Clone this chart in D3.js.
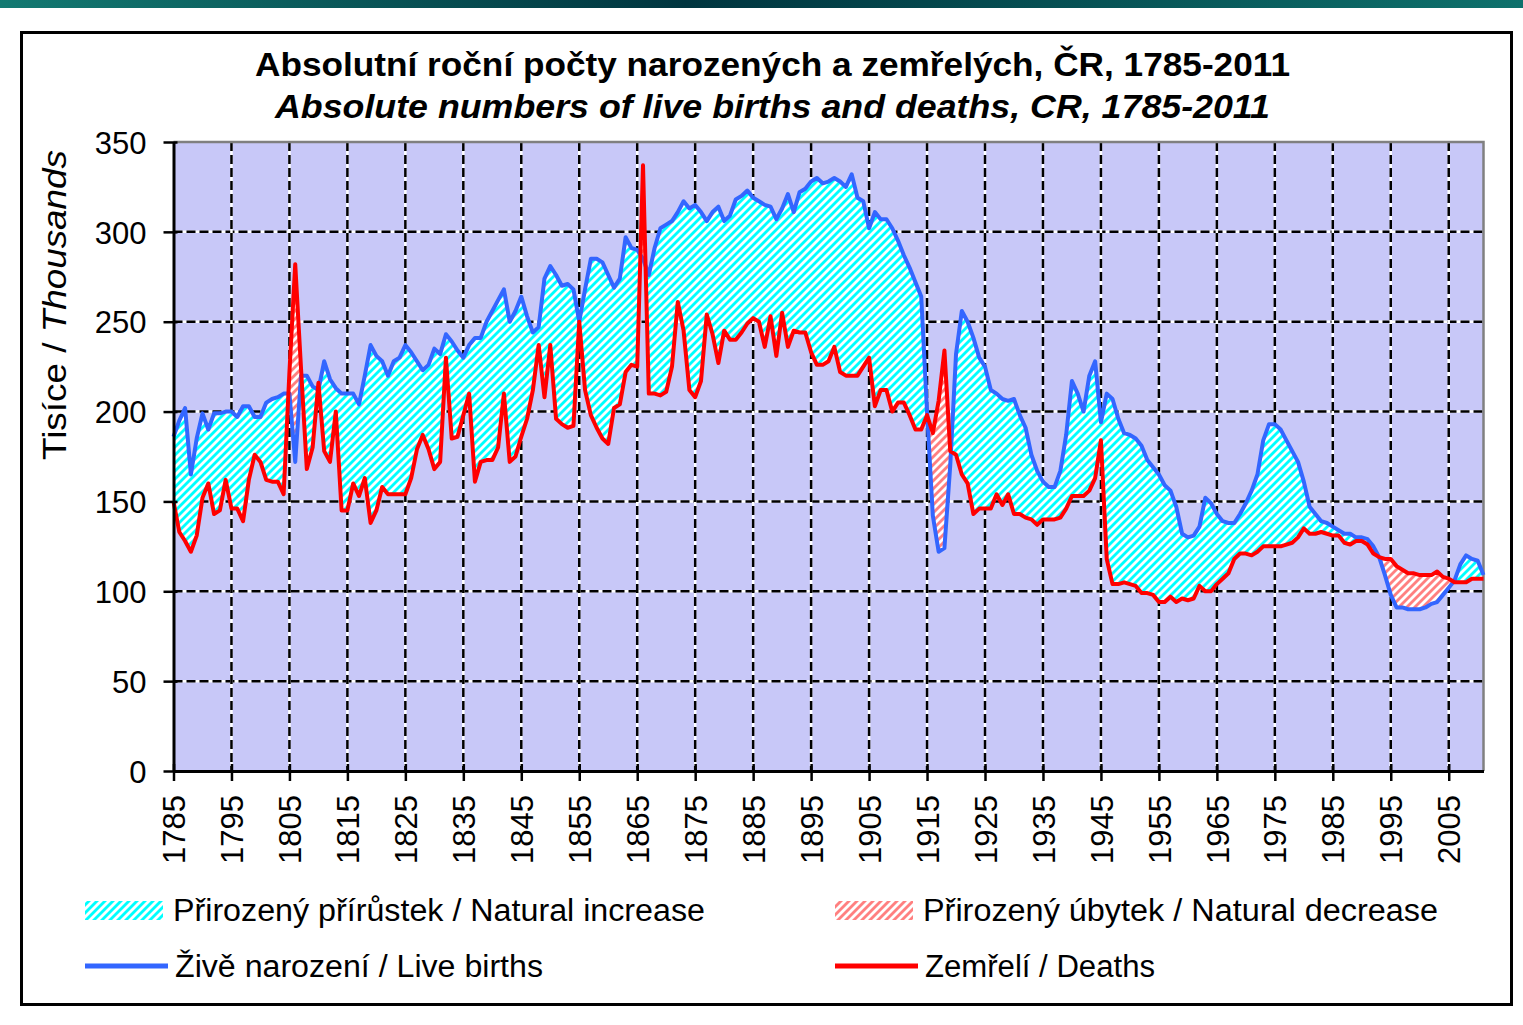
<!DOCTYPE html>
<html><head><meta charset="utf-8">
<script src="https://cdn.jsdelivr.net/npm/d3@7"></script>
<style>
body{margin:0;background:#fff}
svg{display:block}
text{font-family:"Liberation Sans",Arial,sans-serif;fill:#000}
</style>
</head><body>
<svg id="chart" width="1523" height="1025"></svg>
<script>
// ---------- DATA (thousands) ----------
const years = d3.range(1785, 2012);
const births = [
 186,195,202,165,185,199,190,199,199,200, // 1785-1794
 200,197,203,203,197,197,205,207,208,210, // 1795-1804
 210,172,220,220,214,212,228,218,213,210, // 1805-1814
 210,210,204,220,237,231,228,220,228,230, // 1815-1824
 237,233,228,223,226,235,232,243,239,234, // 1825-1834
 230,237,241,241,250,256,262,268,250,256, // 1835-1844
 264,253,244,247,274,281,276,270,271,268, // 1845-1854
 250,268,285,285,283,276,269,274,297,291, // 1855-1864
 290,285,276,291,302,304,306,311,317,313, // 1865-1874
 315,311,306,311,314,306,309,318,320,323, // 1875-1884
 319,317,315,314,307,313,321,311,322,324, // 1885-1894
 328,330,327,328,330,328,325,332,319,317, // 1895-1904
 302,311,307,307,302,295,287,280,272,264, // 1905-1914
 200,142,122,124,170,232,256,250,241,230, // 1915-1924
 225,212,210,207,206,207,198,191,176,167, // 1925-1934
 161,158,158,167,187,217,210,200,220,228, // 1935-1944
 194,210,207,196,188,187,185,181,173,169, // 1945-1954
 165,159,156,147,132,130,131,136,152,149, // 1955-1964
 143,139,138,138,143,149,156,165,184,193, // 1965-1974
 193,190,184,178,172,161,147,143,139,138, // 1975-1984
 136,134,132,132,130,130,129,125,119,109, // 1985-1994
 98,91,91,90,90,90,91,93,94,98,           // 1995-2004
 102,106,115,120,118,117,109              // 2005-2011
];
const deaths = [
 150,133,128,122,131,152,160,143,145,162, // 1785-1794
 146,146,139,162,176,172,162,161,161,154, // 1795-1804
 222,282,224,168,180,216,178,172,200,145, // 1805-1814
 145,160,153,163,138,145,158,154,154,154, // 1815-1824
 154,163,179,187,179,168,172,230,185,186, // 1825-1834
 198,210,161,172,173,173,180,210,172,175, // 1835-1844
 186,196,212,237,208,237,196,193,191,192, // 1845-1854
 250,212,198,191,185,182,202,204,222,226, // 1855-1864
 225,337,210,210,209,211,225,261,245,212, // 1865-1874
 208,217,254,243,227,245,240,240,244,249, // 1875-1884
 252,250,236,253,231,255,236,245,244,244, // 1885-1894
 233,226,226,228,236,222,220,220,220,225, // 1895-1904
 230,203,212,212,200,205,205,198,190,190, // 1905-1914
 198,188,206,234,178,176,165,160,143,146, // 1915-1924
 146,146,154,148,154,143,143,141,140,137, // 1925-1934
 140,140,140,141,146,153,153,153,156,163, // 1935-1944
 184,118,104,104,105,104,103,99,99,98,    // 1945-1954
 94,94,97,94,96,95,96,103,100,100,        // 1955-1964
 104,107,110,118,121,121,120,122,125,125, // 1965-1974
 125,125,126,127,130,135,132,132,133,132, // 1975-1984
 131,131,127,126,128,128,126,121,119,118, // 1985-1994
 118,114,112,110,110,109,109,109,111,108, // 1995-2004
 107,105,105,105,107,107,107              // 2005-2011
];
const yTicks = [0,50,100,150,200,250,300,350];
const yTickLabels = ["0","50","100","150","200","250","300","350"];
const xTickYears = [1785,1795,1805,1815,1825,1835,1845,1855,1865,1875,1885,1895,1905,1915,1925,1935,1945,1955,1965,1975,1985,1995,2005];
const xTickLabels = ["1785","1795","1805","1815","1825","1835","1845","1855","1865","1875","1885","1895","1905","1915","1925","1935","1945","1955","1965","1975","1985","1995","2005"];
const titleCz = "Absolutní roční počty narozených a zemřelých, ČR, 1785-2011";
const titleEn = "Absolute numbers of live births and deaths, CR, 1785-2011";
const legendItems = ["Přirozený přírůstek / Natural increase","Přirozený úbytek / Natural decrease","Živě narození / Live births","Zemřelí / Deaths"];

// ---------- LAYOUT ----------
const svg = d3.select("#chart");
const L = 173.5, R = 1483.5, T = 142, B = 771;
const x = d3.scaleLinear().domain([1785, 2011]).range([L, R]);
const y = d3.scaleLinear().domain([0, 350]).range([B, T]);
const data = years.map((yr, i) => ({yr, b: births[i], d: deaths[i]}));

const defs = svg.append("defs");
const grad = defs.append("linearGradient").attr("id","topbar");
grad.append("stop").attr("offset","0%").attr("stop-color","#137a72");
grad.append("stop").attr("offset","45%").attr("stop-color","#00353f");
grad.append("stop").attr("offset","100%").attr("stop-color","#0e716c");

function hatch(id, color){
  const p = defs.append("pattern").attr("id", id).attr("patternUnits","userSpaceOnUse")
    .attr("width", 8).attr("height", 8);
  p.append("rect").attr("width",8).attr("height",8).attr("fill","#fff");
  p.append("polygon").attr("points","4,0 8,0 0,8 0,4").attr("fill",color);
  p.append("polygon").attr("points","8,4 8,8 4,8").attr("fill",color);
}
hatch("hInc", "#00ffff");
hatch("hDec", "#ff8080");

// clip paths
const areaAboveDeaths = d3.area().x(d => x(d.yr)).y0(T - 5).y1(d => y(d.d));
const areaAboveBirths = d3.area().x(d => x(d.yr)).y0(T - 5).y1(d => y(d.b));
defs.append("clipPath").attr("id","cAD").append("path").attr("d", areaAboveDeaths(data));
defs.append("clipPath").attr("id","cAB").append("path").attr("d", areaAboveBirths(data));

// top bar & frame
svg.append("rect").attr("x",0).attr("y",0).attr("width",1523).attr("height",8).attr("fill","url(#topbar)");
svg.append("rect").attr("x",21.5).attr("y",32.5).attr("width",1490).attr("height",972)
  .attr("fill","#fff").attr("stroke","#000").attr("stroke-width",3);

// plot background
svg.append("rect").attr("x",L).attr("y",T).attr("width",R-L).attr("height",B-T).attr("fill","#c8c8f8");

// gridlines
const grid = svg.append("g");
yTicks.filter(v => v > 0 && v < 350).forEach(v => {
  grid.append("line").attr("x1",L).attr("x2",R).attr("y1",y(v)).attr("y2",y(v)).attr("stroke","#fff").attr("stroke-width",2.5);
  grid.append("line").attr("x1",L).attr("x2",R).attr("y1",y(v)).attr("y2",y(v)).attr("stroke","#000").attr("stroke-width",2.5).attr("stroke-dasharray","9,4");
});
xTickYears.filter(v => v > 1785).forEach(v => {
  grid.append("line").attr("x1",x(v)).attr("x2",x(v)).attr("y1",T).attr("y2",B).attr("stroke","#fff").attr("stroke-width",2.5);
  grid.append("line").attr("x1",x(v)).attr("x2",x(v)).attr("y1",T).attr("y2",B).attr("stroke","#000").attr("stroke-width",2.5).attr("stroke-dasharray","9,4");
});

// hatched areas
const belowBirths = d3.area().x(d => x(d.yr)).y0(B).y1(d => y(d.b));
const belowDeaths = d3.area().x(d => x(d.yr)).y0(B).y1(d => y(d.d));
svg.append("path").attr("d", belowBirths(data)).attr("fill","url(#hInc)").attr("clip-path","url(#cAD)");
svg.append("path").attr("d", belowDeaths(data)).attr("fill","url(#hDec)").attr("clip-path","url(#cAB)");

// plot border (top, right)
svg.append("path").attr("d",`M${L},${T}H${R}V${B}`).attr("fill","none").attr("stroke","#808080").attr("stroke-width",2.5);

// lines
const lineB = d3.line().x(d => x(d.yr)).y(d => y(d.b));
const lineD = d3.line().x(d => x(d.yr)).y(d => y(d.d));
svg.append("path").attr("d", lineB(data)).attr("fill","none").attr("stroke","#3366ff").attr("stroke-width",4).attr("stroke-linejoin","round");
svg.append("path").attr("d", lineD(data)).attr("fill","none").attr("stroke","#ff0000").attr("stroke-width",4).attr("stroke-linejoin","round");

// axes
const yAxis = svg.append("g").attr("transform",`translate(${L},0)`)
  .call(d3.axisLeft(y).tickValues(yTicks).tickFormat((d,i) => yTickLabels[i]).tickSize(10).tickSizeOuter(0));
yAxis.select(".domain").attr("stroke","#000").attr("stroke-width",3);
yAxis.selectAll(".tick line").attr("x1",4).attr("x2",-10).attr("stroke","#000").attr("stroke-width",2.5);
yAxis.selectAll(".tick text").attr("x",-27).attr("dy","0.36em").attr("font-size",31).attr("font-family",null).attr("fill","#000");

const xAxis = svg.append("g").attr("transform",`translate(0,${B})`)
  .call(d3.axisBottom(x).tickValues(xTickYears).tickFormat((d,i) => xTickLabels[i]).tickSize(10).tickSizeOuter(0));
xAxis.select(".domain").attr("stroke","#000").attr("stroke-width",3);
xAxis.selectAll(".tick line").attr("y1",-7).attr("y2",10).attr("stroke","#000").attr("stroke-width",2.5);
xAxis.selectAll(".tick text").attr("transform","rotate(-90)").attr("x",-24).attr("y",0).attr("dy","0.36em")
  .attr("text-anchor","end").attr("font-size",31).attr("font-family",null).attr("fill","#000");
svg.selectAll(".tick text").style("font-family",'"Liberation Sans",Arial,sans-serif');

// titles
svg.append("text").attr("x",772.5).attr("y",75.5).attr("text-anchor","middle").attr("font-size",34).attr("font-weight","bold")
  .attr("textLength",1035).attr("lengthAdjust","spacingAndGlyphs").text(titleCz);
svg.append("text").attr("x",772.5).attr("y",117.5).attr("text-anchor","middle").attr("font-size",34).attr("font-weight","bold").attr("font-style","italic")
  .attr("textLength",995).attr("lengthAdjust","spacingAndGlyphs").text(titleEn);

// y axis title
const yt = svg.append("text").attr("transform","translate(66,305) rotate(-90)").attr("text-anchor","middle").attr("font-size",33)
  .attr("textLength",310).attr("lengthAdjust","spacingAndGlyphs");
yt.append("tspan").text("Tisíce / ");
yt.append("tspan").attr("font-style","italic").text("Thousands");

// legend
const lg = svg.append("g");
lg.append("rect").attr("x",85).attr("y",901).attr("width",78).attr("height",19).attr("fill","url(#hInc)");
lg.append("rect").attr("x",835).attr("y",901).attr("width",78).attr("height",19).attr("fill","url(#hDec)");
lg.append("line").attr("x1",85).attr("x2",168).attr("y1",966).attr("y2",966).attr("stroke","#3366ff").attr("stroke-width",5);
lg.append("line").attr("x1",835).attr("x2",918).attr("y1",966).attr("y2",966).attr("stroke","#ff0000").attr("stroke-width",5);
const lgText = [
  {t: legendItems[0], x:173, y:921, w:532},
  {t: legendItems[1], x:923, y:921, w:515},
  {t: legendItems[2], x:175, y:977, w:368},
  {t: legendItems[3], x:925, y:977, w:230}
];
lgText.forEach(o => lg.append("text").attr("x",o.x).attr("y",o.y).attr("font-size",31)
  .attr("textLength",o.w).attr("lengthAdjust","spacingAndGlyphs").text(o.t));
</script>
</body></html>
